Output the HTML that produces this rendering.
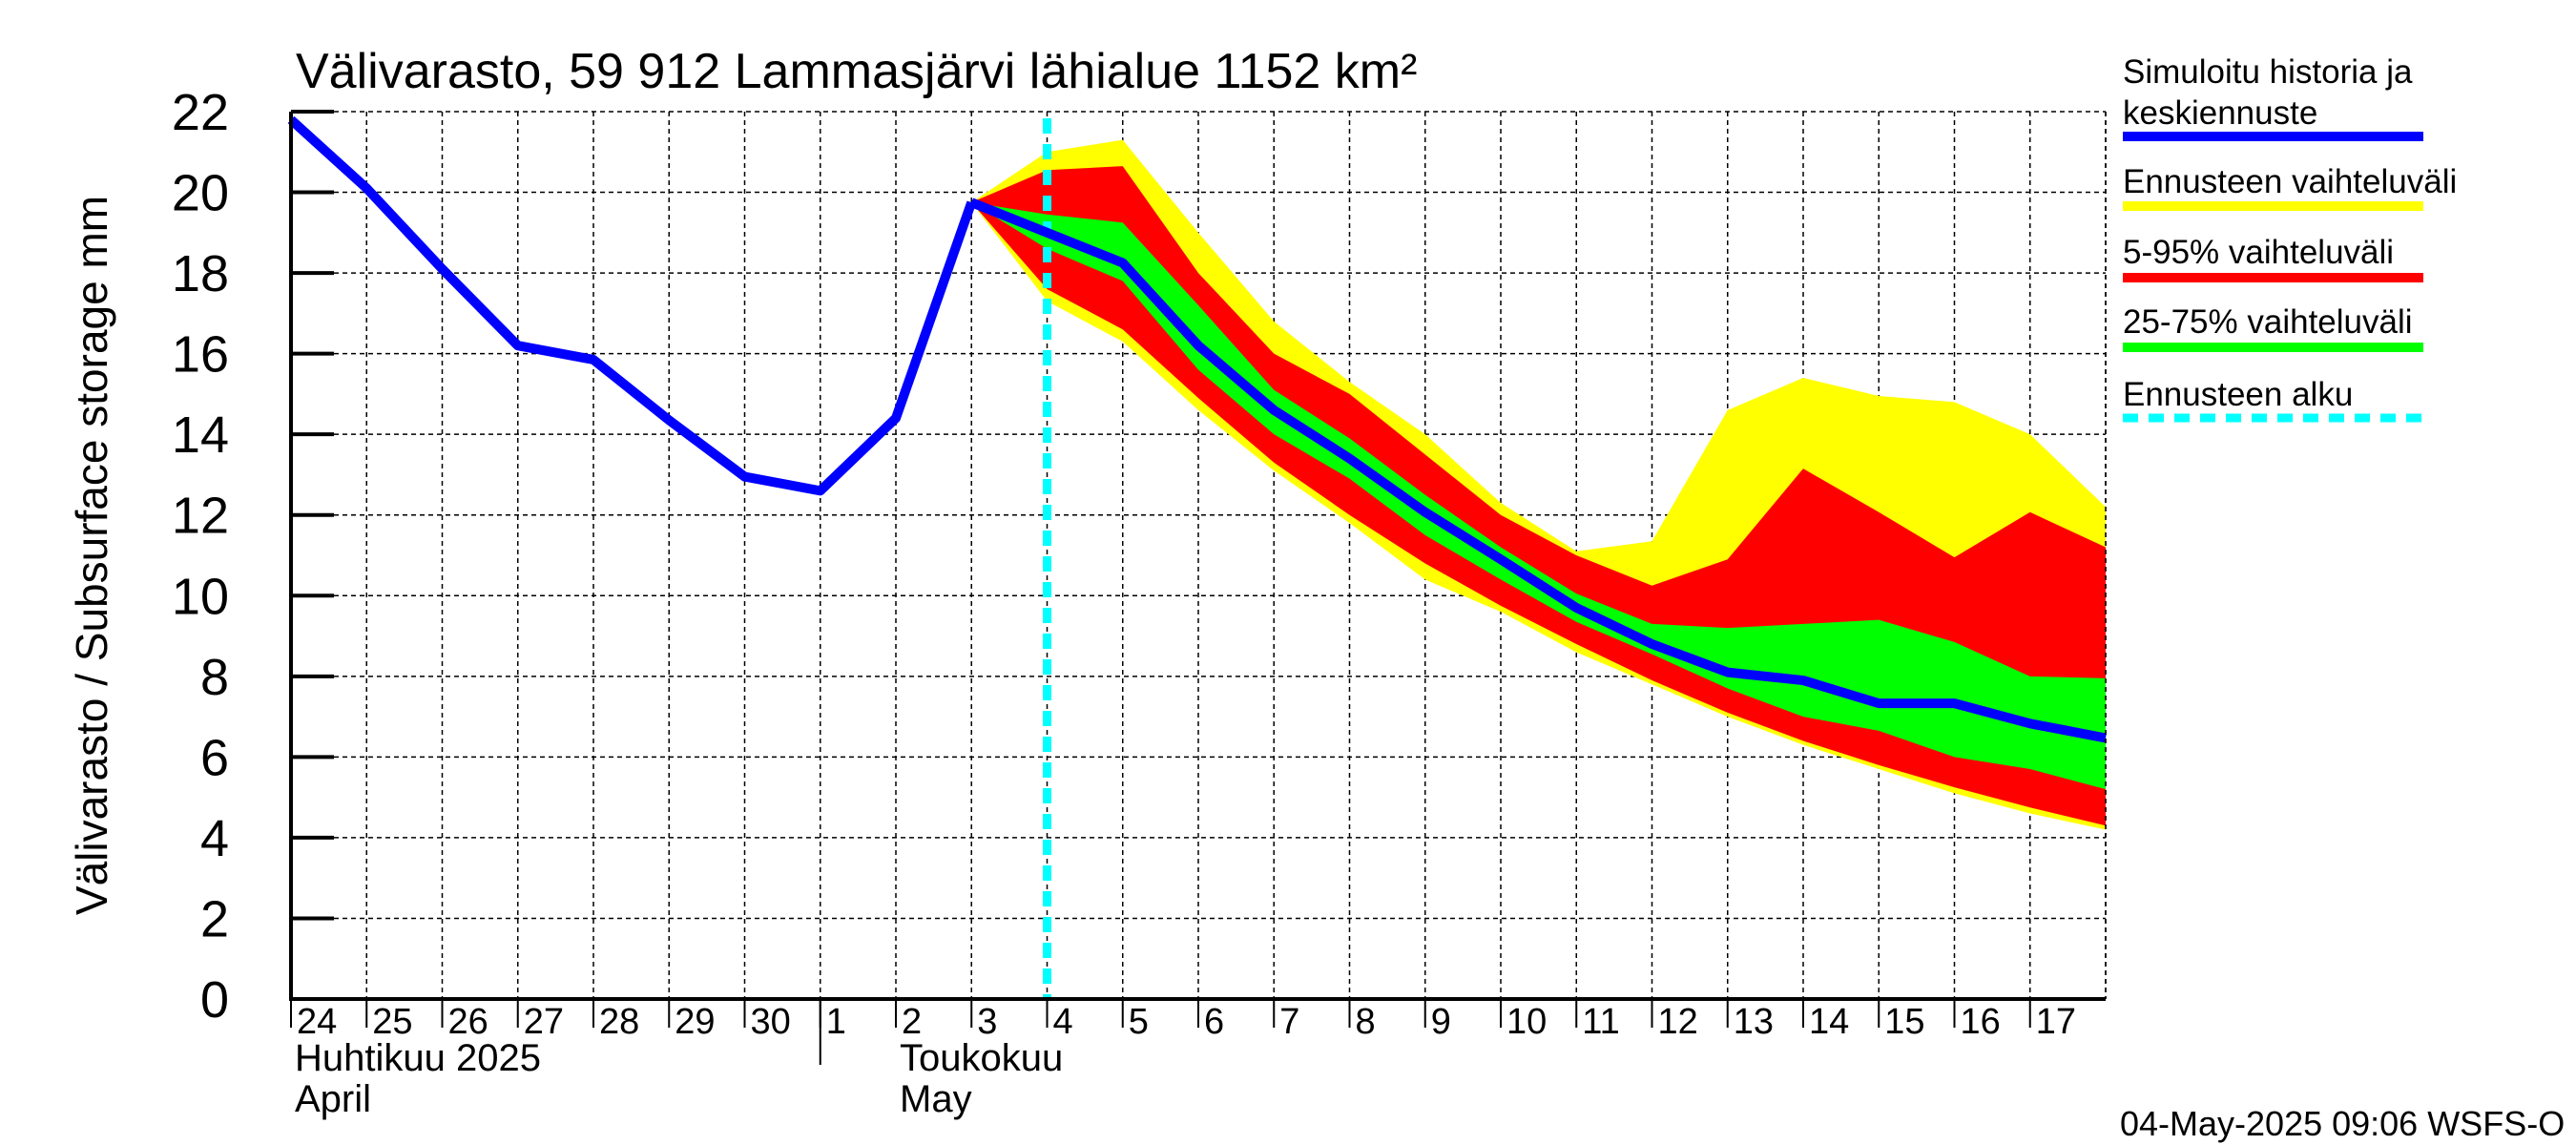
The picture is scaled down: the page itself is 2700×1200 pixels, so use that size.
<!DOCTYPE html>
<html><head><meta charset="utf-8"><style>
html,body{margin:0;padding:0;background:#fff}
svg{display:block}
text{font-family:"Liberation Sans",sans-serif;fill:#000}
</style></head><body>
<svg id="chart" width="2700" height="1200" xmlns="http://www.w3.org/2000/svg">
<text x="310" y="92" font-size="52">Välivarasto, 59 912 Lammasjärvi lähialue 1152 km²</text>
<text transform="translate(112,582) rotate(-90)" text-anchor="middle" font-size="46">Välivarasto / Subsurface storage  mm</text>
<g id="grid"></g>
<g id="bands"></g>
<g id="lines"></g>
<g id="axes"></g>
<g id="legend"></g>
<text x="2222" y="1190" font-size="36">04-May-2025 09:06 WSFS-O</text>
</svg>
<script>
const dayLabels=["24","25","26","27","28","29","30","1","2","3","4","5","6","7","8","9","10","11","12","13","14","15","16","17"];
const yTicks=[0,2,4,6,8,10,12,14,16,18,20,22];
const histDays=[0,1,2,3,4,5,6,7,8,9];
const histValues=[21.8,20.1,18.1,16.2,15.85,14.35,12.95,12.6,14.4,19.75];
const fcDays=[9,10,11,12,13,14,15,16,17,18,19,20,21,22,23,24];
const median=[19.75,19.0,18.25,16.2,14.6,13.4,12.07,10.9,9.7,8.8,8.1,7.9,7.33,7.33,6.83,6.47];
const yellowHi=[19.75,21.0,21.3,19.0,16.8,15.3,14.0,12.3,11.1,11.35,14.6,15.4,14.95,14.8,14.0,12.2];
const redHi=[19.75,20.55,20.65,18.0,16.0,15.0,13.5,12.0,11.0,10.25,10.9,13.15,12.07,10.95,12.07,11.2];
const greenHi=[19.75,19.45,19.25,17.2,15.1,13.9,12.5,11.2,10.05,9.3,9.2,9.3,9.4,8.85,8.0,7.95];
const greenLo=[19.75,18.6,17.8,15.6,14.0,12.9,11.5,10.4,9.35,8.55,7.7,7.0,6.65,6.0,5.7,5.2];
const redLo=[19.75,17.6,16.6,14.9,13.3,12.0,10.8,9.75,8.8,7.9,7.1,6.4,5.8,5.25,4.75,4.3];
const yellowLo=[19.75,17.3,16.3,14.6,13.1,11.8,10.4,9.6,8.6,7.8,7.0,6.3,5.7,5.1,4.6,4.2];
const forecastStartDay=10;

const L=305,R=2207,T=117,B=1047,NDAYS=24,YMAX=22;
const X=d=>L+(R-L)*d/NDAYS;
const Y=v=>B-(B-T)*v/YMAX;
const NS="http://www.w3.org/2000/svg";
function mk(tag,attrs,parent){const e=document.createElementNS(NS,tag);for(const k in attrs)e.setAttribute(k,attrs[k]);parent.appendChild(e);return e;}
const grid=document.getElementById('grid'),bands=document.getElementById('bands'),lines=document.getElementById('lines'),axes=document.getElementById('axes'),legend=document.getElementById('legend');

yTicks.forEach(v=>{
  const g=mk('line',{x1:L,x2:R,y1:Y(v),y2:Y(v),stroke:'#000','stroke-width':1.5,'stroke-dasharray':'5,4'},grid);
  
  
  const t=mk('line',{x1:L,x2:L+45,y1:Y(v),y2:Y(v),stroke:'#000','stroke-width':4},axes);
  
  
  const lb=mk('text',{x:240,y:Y(v)+19,'text-anchor':'end','font-size':54},axes);
  lb.textContent=v;
  
  
});
for(let d=0;d<=NDAYS;d++){
  const g=mk('line',{x1:X(d),x2:X(d),y1:T,y2:B,stroke:'#000','stroke-width':1.5,'stroke-dasharray':'5,4'},grid);
  
  
}
dayLabels.forEach((s,i)=>{
  const t=mk('line',{x1:X(i),x2:X(i),y1:B,y2:B+30,stroke:'#000','stroke-width':2},axes);
  
  
  const lb=mk('text',{x:X(i)+6,y:B+36,'font-size':38},axes);
  lb.textContent=s;
  
  
});
function band(hi,lo,color,name){
  let pts=fcDays.map((d,i)=>X(d)+','+Y(hi[i]));
  for(let i=fcDays.length-1;i>=0;i--)pts.push(X(fcDays[i])+','+Y(lo[i]));
  const p=mk('polygon',{points:pts.join(' '),fill:color},bands);
  
  
}
band(yellowHi,yellowLo,'#ffff00','band-full-range');
band(redHi,redLo,'#ff0000','band-5-95');
band(greenHi,greenLo,'#00ff00','band-25-75');
const fs=mk('line',{x1:X(forecastStartDay),x2:X(forecastStartDay),y1:T+7,y2:B,stroke:'#00ffff','stroke-width':9,'stroke-dasharray':'16,11'},lines);


const hp=mk('polyline',{points:histDays.map((d,i)=>X(d)+','+Y(histValues[i])).join(' '),fill:'none',stroke:'#0000ff','stroke-width':10,'stroke-linejoin':'round'},lines);


const mp=mk('polyline',{points:fcDays.map((d,i)=>X(d)+','+Y(median[i])).join(' '),fill:'none',stroke:'#0000ff','stroke-width':10,'stroke-linejoin':'round'},lines);



const ax=mk('polyline',{points:`${L},${T} ${L},${B} ${R},${B}`,fill:'none',stroke:'#000','stroke-width':4},axes);


const rb=mk('line',{x1:R,x2:R,y1:T,y2:B,stroke:'#000','stroke-width':1.5,'stroke-dasharray':'5,4'},axes);


const sep=mk('line',{x1:X(7),x2:X(7),y1:B,y2:1116,stroke:'#000','stroke-width':2},axes);


[["Huhtikuu  2025",X(0)+4,1122,'month-label-april-fi'],["April",X(0)+4,1165,'month-label-april-en'],["Toukokuu",X(8)+4,1122,'month-label-may-fi'],["May",X(8)+4,1165,'month-label-may-en']].forEach(a=>{
  const t=mk('text',{x:a[1],y:a[2],'font-size':40,'xml:space':'preserve'},axes);
  t.textContent=a[0];
  
  
});

const LX=2225,LX2=2540;
[["Simuloitu historia ja",87],["keskiennuste",130],["Ennusteen vaihteluväli",202],["5-95% vaihteluväli",276],["25-75% vaihteluväli",349],["Ennusteen alku",425]].forEach(a=>{
  const t=mk('text',{x:LX,y:a[1],'font-size':35},legend);
  t.textContent=a[0];
  
  
});
[[143,'#0000ff','legend-swatch-median'],[216,'#ffff00','legend-swatch-full-range'],[291,'#ff0000','legend-swatch-5-95'],[364,'#00ff00','legend-swatch-25-75']].forEach(a=>{
  const s=mk('line',{x1:LX,x2:LX2,y1:a[0],y2:a[0],stroke:a[1],'stroke-width':10},legend);
  
  
});
const ls=mk('line',{x1:LX,x2:LX2,y1:438,y2:438,stroke:'#00ffff','stroke-width':9,'stroke-dasharray':'16,11'},legend);


</script>
</body></html>
